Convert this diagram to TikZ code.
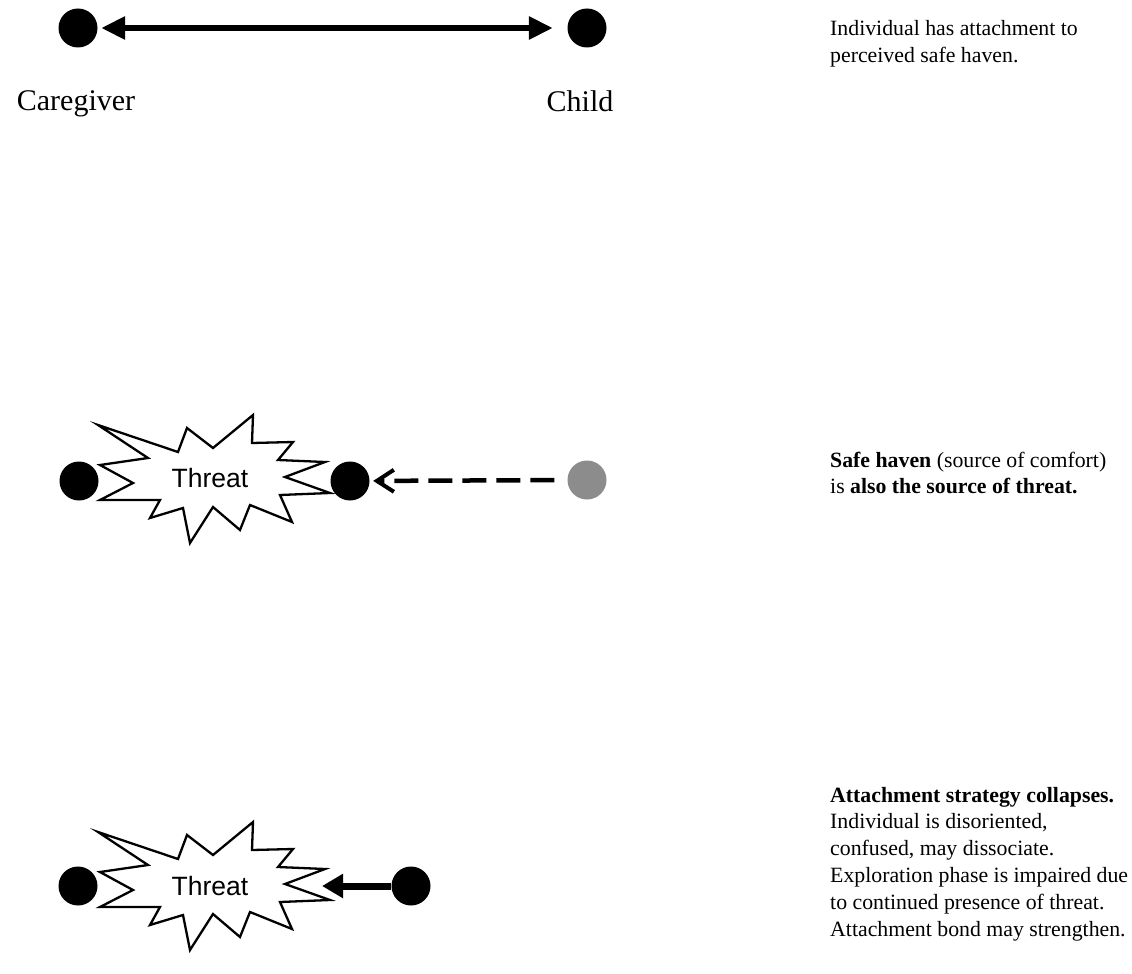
\documentclass[tikz,border=0pt]{standalone}
\usepackage{fontspec}
\setmainfont{Liberation Serif}
\newfontfamily\burstfont{Liberation Sans}
\usetikzlibrary{arrows.meta}

\definecolor{haze}{gray}{0.55}

\begin{document}
\begin{tikzpicture}[x=1pt,y=-1pt,
  dot/.style={circle, fill=black, minimum size=39pt, inner sep=0pt},
  greydot/.style={dot, fill=haze},
  who/.style={anchor=base, inner sep=0pt, font=\fontsize{30}{34}\selectfont},
  % multi-line notes are placed by the baseline of their last line
  note/.style={anchor=base west, align=left, inner sep=0pt,
               font=\fontsize{21.8}{26.8}\selectfont},
  threat/.style={inner sep=0pt, font=\burstfont\fontsize{26.5}{30}\selectfont},
  bond/.style={line width=6.5pt,
               {Triangle[length=24pt,width=22pt]}-{Triangle[length=24pt,width=22pt]}},
  reach/.style={line width=4.5pt, dash pattern=on 24pt off 10pt,
                -{Straight Barb[length=17pt,width=22pt,line width=4pt]}},
  push/.style={line width=7pt, -{Triangle[length=21pt,width=23pt]}},
  burst/.pic={
    \draw[line width=2.3pt, fill=white, line join=miter]
      (98,-56) -- (178,-29) -- (187,-53) -- (213,-33) -- (253,-66)
      -- (252,-38) -- (293,-39) -- (278,-21) -- (325,-19) -- (285,-4)
      -- (330,12) -- (280,14) -- (292,41) -- (250,24) -- (240,49)
      -- (213,26) -- (190,62) -- (183,27) -- (150,37) -- (160,19)
      -- (100,19) -- (133,2) -- (100,-16) -- (148,-23) -- cycle;
  }
]
\useasboundingbox (0,0) rectangle (1132,974);

% secure attachment
\node[dot] (cg1) at (78,28) {};
\node[dot] (ch1) at (587,28) {};
\draw[bond, shorten <=3.5pt, shorten >=14.5pt] (cg1) -- (ch1);
\node[who] (cgl) at (76,110) {Caregiver};
\node[who] (chl) at (580,111) {Child};
\node[note] (n1) at (830,62.8) {Individual has attachment to\\perceived safe haven.};

% haven becomes the threat
\pic at (0,481) {burst};
\node[threat] (t2) at (210,478) {Threat};
\node[dot] (cg2) at (79,481) {};
\node[dot] (ch2) at (350,481) {};
\node[greydot] (gh2) at (587,480) {};
\draw[reach, shorten <=13pt, shorten >=3.5pt] (gh2) -- (ch2);
\node[note] (n2) at (830,493.8)
  {\textbf{Safe haven} (source of comfort)\\is \textbf{also the source of threat.}};

% collapse
\pic at (0,888) {burst};
\node[threat] (t3) at (210,886) {Threat};
\node[dot] (cg3) at (78,886) {};
\node[dot] (ch3) at (411,886) {};
\coordinate (hit3) at (322,886);
\draw[push] (ch3) -- (hit3);
\node[note] (n3) at (830,936)
  {\textbf{Attachment strategy collapses.}\\
   Individual is disoriented,\\
   confused, may dissociate.\\
   Exploration phase is impaired due\\
   to continued presence of threat.\\
   Attachment bond may strengthen.};
\end{tikzpicture}
\end{document}
